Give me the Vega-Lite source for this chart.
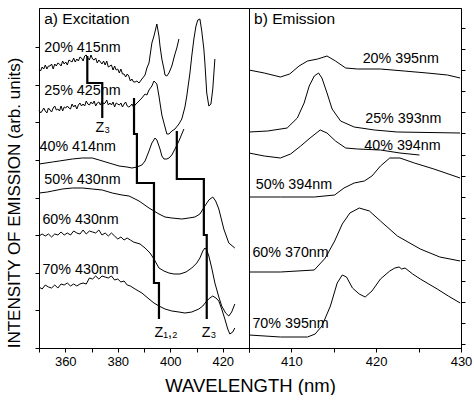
{
  "$schema": "https://vega.github.io/schema/vega-lite/v6.json",
  "padding": {"left": 4, "top": 7, "right": 0, "bottom": 0},
  "bounds": "flush",
  "spacing": 0,
  "config": {
    "view": {"stroke": "black", "strokeWidth": 1},
    "axis": {"grid": false, "domainColor": "black", "tickColor": "black", "labelColor": "black", "titleColor": "black", "labelFont": "Liberation Sans", "titleFont": "Liberation Sans", "labelFontSize": 13, "tickSize": 4, "titleFontWeight": "normal", "labelPadding": 3},
    "text": {"font": "Liberation Sans", "fontSize": 14.3, "color": "black"},
    "line": {"color": "black", "strokeWidth": 1}
  },
  "datasets": {
    "exc": [
      {"s":"20%","x":350.0,"y":279},{"s":"20%","x":350.6,"y":277},{"s":"20%","x":351.2,"y":281},{"s":"20%","x":351.8,"y":279},{"s":"20%","x":352.4,"y":283},{"s":"20%","x":353.0,"y":279},{"s":"20%","x":353.6,"y":282},{"s":"20%","x":354.2,"y":282},{"s":"20%","x":354.8,"y":284},{"s":"20%","x":355.4,"y":279},{"s":"20%","x":356.0,"y":284},{"s":"20%","x":356.6,"y":282},{"s":"20%","x":357.2,"y":285},{"s":"20%","x":357.8,"y":284},{"s":"20%","x":358.4,"y":282},{"s":"20%","x":359.0,"y":287},{"s":"20%","x":359.6,"y":284},{"s":"20%","x":360.2,"y":286},{"s":"20%","x":360.8,"y":283},{"s":"20%","x":361.4,"y":288},{"s":"20%","x":362.0,"y":287},{"s":"20%","x":362.6,"y":286},{"s":"20%","x":363.2,"y":290},{"s":"20%","x":363.8,"y":286},{"s":"20%","x":364.4,"y":289},{"s":"20%","x":365.0,"y":287},{"s":"20%","x":365.6,"y":291},{"s":"20%","x":366.2,"y":290},{"s":"20%","x":366.8,"y":287},{"s":"20%","x":367.4,"y":292},{"s":"20%","x":368.0,"y":293},{"s":"20%","x":368.6,"y":290},{"s":"20%","x":369.2,"y":288},{"s":"20%","x":369.8,"y":293},{"s":"20%","x":370.4,"y":289},{"s":"20%","x":371.0,"y":288},{"s":"20%","x":371.6,"y":290},{"s":"20%","x":372.2,"y":285},{"s":"20%","x":372.8,"y":288},{"s":"20%","x":373.4,"y":286},{"s":"20%","x":374.0,"y":284},{"s":"20%","x":374.6,"y":287},{"s":"20%","x":375.2,"y":283},{"s":"20%","x":375.8,"y":287},{"s":"20%","x":376.4,"y":281},{"s":"20%","x":377.0,"y":282},{"s":"20%","x":377.6,"y":283},{"s":"20%","x":378.2,"y":278},{"s":"20%","x":378.8,"y":282},{"s":"20%","x":379.4,"y":278},{"s":"20%","x":380.0,"y":279},{"s":"20%","x":380.6,"y":275},{"s":"20%","x":381.2,"y":279},{"s":"20%","x":381.8,"y":274},{"s":"20%","x":382.4,"y":274},{"s":"20%","x":383.0,"y":271},{"s":"20%","x":383.6,"y":274},{"s":"20%","x":384.2,"y":272},{"s":"20%","x":384.8,"y":267},{"s":"20%","x":385.4,"y":269},{"s":"20%","x":386.0,"y":266},{"s":"20%","x":386.6,"y":266},{"s":"20%","x":387.3,"y":267},{"s":"20%","x":388.1,"y":265},{"s":"20%","x":389.2,"y":269},{"s":"20%","x":390.4,"y":273},{"s":"20%","x":391.1,"y":280},{"s":"20%","x":391.9,"y":285},{"s":"20%","x":393.0,"y":305},{"s":"20%","x":393.8,"y":312},{"s":"20%","x":394.9,"y":324},{"s":"20%","x":395.7,"y":312},{"s":"20%","x":396.1,"y":302},{"s":"20%","x":396.8,"y":289},{"s":"20%","x":397.6,"y":279},{"s":"20%","x":398.0,"y":273},{"s":"20%","x":398.7,"y":272},{"s":"20%","x":399.5,"y":275},{"s":"20%","x":400.6,"y":282},{"s":"20%","x":401.8,"y":294},{"s":"20%","x":402.5,"y":300},{"s":"20%","x":403.3,"y":309},
      {"s":"25%","x":350.0,"y":238},{"s":"25%","x":350.6,"y":235},{"s":"25%","x":351.2,"y":237},{"s":"25%","x":351.8,"y":240},{"s":"25%","x":352.4,"y":237},{"s":"25%","x":353.0,"y":235},{"s":"25%","x":353.6,"y":240},{"s":"25%","x":354.2,"y":238},{"s":"25%","x":354.8,"y":236},{"s":"25%","x":355.4,"y":240},{"s":"25%","x":356.0,"y":242},{"s":"25%","x":356.6,"y":238},{"s":"25%","x":357.2,"y":239},{"s":"25%","x":357.8,"y":237},{"s":"25%","x":358.4,"y":242},{"s":"25%","x":359.0,"y":237},{"s":"25%","x":359.6,"y":241},{"s":"25%","x":360.2,"y":240},{"s":"25%","x":360.8,"y":242},{"s":"25%","x":361.4,"y":240},{"s":"25%","x":362.0,"y":239},{"s":"25%","x":362.6,"y":244},{"s":"25%","x":363.2,"y":241},{"s":"25%","x":363.8,"y":243},{"s":"25%","x":364.4,"y":239},{"s":"25%","x":365.0,"y":243},{"s":"25%","x":365.6,"y":245},{"s":"25%","x":366.2,"y":242},{"s":"25%","x":366.8,"y":244},{"s":"25%","x":367.4,"y":242},{"s":"25%","x":368.0,"y":247},{"s":"25%","x":368.6,"y":244},{"s":"25%","x":369.2,"y":243},{"s":"25%","x":369.8,"y":246},{"s":"25%","x":370.4,"y":244},{"s":"25%","x":371.0,"y":247},{"s":"25%","x":371.6,"y":242},{"s":"25%","x":372.2,"y":245},{"s":"25%","x":372.8,"y":246},{"s":"25%","x":373.4,"y":243},{"s":"25%","x":374.0,"y":247},{"s":"25%","x":374.6,"y":244},{"s":"25%","x":375.2,"y":245},{"s":"25%","x":375.8,"y":248},{"s":"25%","x":376.4,"y":243},{"s":"25%","x":377.0,"y":245},{"s":"25%","x":377.6,"y":243},{"s":"25%","x":378.2,"y":246},{"s":"25%","x":378.8,"y":241},{"s":"25%","x":379.4,"y":245},{"s":"25%","x":380.0,"y":244},{"s":"25%","x":380.6,"y":243},{"s":"25%","x":381.2,"y":245},{"s":"25%","x":381.8,"y":241},{"s":"25%","x":382.4,"y":244},{"s":"25%","x":383.0,"y":246},{"s":"25%","x":383.6,"y":242},{"s":"25%","x":384.2,"y":241},{"s":"25%","x":384.8,"y":242},{"s":"25%","x":385.4,"y":244},{"s":"25%","x":386.0,"y":241},{"s":"25%","x":386.6,"y":243},{"s":"25%","x":388.1,"y":247},{"s":"25%","x":389.2,"y":250},{"s":"25%","x":390.4,"y":254},{"s":"25%","x":391.1,"y":253},{"s":"25%","x":391.9,"y":258},{"s":"25%","x":393.0,"y":262},{"s":"25%","x":393.8,"y":267},{"s":"25%","x":394.9,"y":264},{"s":"25%","x":395.7,"y":252},{"s":"25%","x":396.1,"y":245},{"s":"25%","x":396.8,"y":233},{"s":"25%","x":397.6,"y":225},{"s":"25%","x":398.7,"y":214},{"s":"25%","x":399.5,"y":214},{"s":"25%","x":400.6,"y":217},{"s":"25%","x":401.8,"y":219},{"s":"25%","x":403.3,"y":224},{"s":"25%","x":404.4,"y":229},{"s":"25%","x":405.6,"y":241},{"s":"25%","x":406.3,"y":252},{"s":"25%","x":407.5,"y":275},{"s":"25%","x":408.2,"y":292},{"s":"25%","x":409.0,"y":309},{"s":"25%","x":409.8,"y":322},{"s":"25%","x":410.5,"y":328},{"s":"25%","x":411.3,"y":329},{"s":"25%","x":412.0,"y":317},{"s":"25%","x":412.8,"y":299},{"s":"25%","x":413.2,"y":285},{"s":"25%","x":413.9,"y":255},{"s":"25%","x":414.7,"y":242},{"s":"25%","x":415.5,"y":244},{"s":"25%","x":416.2,"y":259},{"s":"25%","x":417.0,"y":289},
      {"s":"40%","x":350.1,"y":184},{"s":"40%","x":355.1,"y":186},{"s":"40%","x":357.7,"y":187},{"s":"40%","x":362.7,"y":189},{"s":"40%","x":366.5,"y":190},{"s":"40%","x":370.3,"y":190},{"s":"40%","x":372.9,"y":188},{"s":"40%","x":376.7,"y":185},{"s":"40%","x":380.5,"y":182},{"s":"40%","x":383.5,"y":181},{"s":"40%","x":385.4,"y":180},{"s":"40%","x":387.3,"y":181},{"s":"40%","x":389.2,"y":183},{"s":"40%","x":390.4,"y":187},{"s":"40%","x":391.9,"y":197},{"s":"40%","x":393.0,"y":205},{"s":"40%","x":394.2,"y":210},{"s":"40%","x":394.9,"y":208},{"s":"40%","x":396.1,"y":199},{"s":"40%","x":396.8,"y":192},{"s":"40%","x":397.6,"y":189},{"s":"40%","x":398.7,"y":189},{"s":"40%","x":399.5,"y":190},{"s":"40%","x":400.6,"y":193},{"s":"40%","x":401.8,"y":199},{"s":"40%","x":403.3,"y":207},{"s":"40%","x":404.4,"y":214},{"s":"40%","x":405.2,"y":219},
      {"s":"50%","x":350.1,"y":155},{"s":"50%","x":353.2,"y":156},{"s":"50%","x":355.1,"y":157},{"s":"50%","x":358.9,"y":159},{"s":"50%","x":362.7,"y":160},{"s":"50%","x":366.5,"y":160},{"s":"50%","x":370.3,"y":159},{"s":"50%","x":374.1,"y":158},{"s":"50%","x":377.9,"y":155},{"s":"50%","x":381.6,"y":153},{"s":"50%","x":384.3,"y":152},{"s":"50%","x":386.6,"y":149},{"s":"50%","x":388.1,"y":147},{"s":"50%","x":389.2,"y":145},{"s":"50%","x":391.9,"y":140},{"s":"50%","x":393.8,"y":137},{"s":"50%","x":395.7,"y":134},{"s":"50%","x":398.0,"y":131},{"s":"50%","x":400.6,"y":130},{"s":"50%","x":404.4,"y":129},{"s":"50%","x":407.1,"y":130},{"s":"50%","x":409.4,"y":131},{"s":"50%","x":411.3,"y":134},{"s":"50%","x":413.2,"y":142},{"s":"50%","x":414.7,"y":148},{"s":"50%","x":416.2,"y":151},{"s":"50%","x":417.3,"y":147},{"s":"50%","x":418.5,"y":139},{"s":"50%","x":420.4,"y":119},{"s":"50%","x":422.3,"y":105},{"s":"50%","x":424.6,"y":100},
      {"s":"60%","x":350.0,"y":112},{"s":"60%","x":351.2,"y":114},{"s":"60%","x":352.4,"y":112},{"s":"60%","x":353.6,"y":114},{"s":"60%","x":354.8,"y":111},{"s":"60%","x":356.0,"y":114},{"s":"60%","x":357.2,"y":113},{"s":"60%","x":358.4,"y":116},{"s":"60%","x":359.6,"y":113},{"s":"60%","x":360.8,"y":115},{"s":"60%","x":362.0,"y":113},{"s":"60%","x":363.2,"y":117},{"s":"60%","x":364.4,"y":115},{"s":"60%","x":365.6,"y":114},{"s":"60%","x":366.8,"y":118},{"s":"60%","x":368.0,"y":114},{"s":"60%","x":369.2,"y":117},{"s":"60%","x":370.4,"y":116},{"s":"60%","x":371.6,"y":115},{"s":"60%","x":372.8,"y":118},{"s":"60%","x":374.0,"y":113},{"s":"60%","x":375.2,"y":115},{"s":"60%","x":376.4,"y":112},{"s":"60%","x":377.6,"y":115},{"s":"60%","x":378.8,"y":112},{"s":"60%","x":380.0,"y":109},{"s":"60%","x":381.2,"y":111},{"s":"60%","x":382.4,"y":108},{"s":"60%","x":383.6,"y":110},{"s":"60%","x":384.8,"y":108},{"s":"60%","x":386.0,"y":106},{"s":"60%","x":388.5,"y":104},{"s":"60%","x":390.4,"y":100},{"s":"60%","x":392.3,"y":95},{"s":"60%","x":393.8,"y":89},{"s":"60%","x":395.7,"y":80},{"s":"60%","x":397.6,"y":77},{"s":"60%","x":399.5,"y":75},{"s":"60%","x":401.4,"y":74},{"s":"60%","x":403.7,"y":74},{"s":"60%","x":406.0,"y":76},{"s":"60%","x":408.2,"y":80},{"s":"60%","x":410.1,"y":85},{"s":"60%","x":411.3,"y":90},{"s":"60%","x":412.4,"y":97},{"s":"60%","x":413.2,"y":100},{"s":"60%","x":413.9,"y":98},{"s":"60%","x":414.7,"y":92},{"s":"60%","x":415.8,"y":80},{"s":"60%","x":417.0,"y":65},{"s":"60%","x":418.5,"y":51},{"s":"60%","x":419.6,"y":42},{"s":"60%","x":421.1,"y":35},{"s":"60%","x":422.3,"y":32},{"s":"60%","x":423.4,"y":36},{"s":"60%","x":424.6,"y":44},
      {"s":"70%","x":350.0,"y":61},{"s":"70%","x":351.2,"y":59},{"s":"70%","x":352.4,"y":63},{"s":"70%","x":353.6,"y":61},{"s":"70%","x":354.8,"y":60},{"s":"70%","x":356.0,"y":63},{"s":"70%","x":357.2,"y":60},{"s":"70%","x":358.4,"y":64},{"s":"70%","x":359.6,"y":63},{"s":"70%","x":360.8,"y":65},{"s":"70%","x":362.0,"y":62},{"s":"70%","x":363.2,"y":64},{"s":"70%","x":364.4,"y":62},{"s":"70%","x":365.6,"y":64},{"s":"70%","x":366.8,"y":65},{"s":"70%","x":368.0,"y":64},{"s":"70%","x":369.2,"y":70},{"s":"70%","x":370.4,"y":69},{"s":"70%","x":371.6,"y":72},{"s":"70%","x":372.8,"y":69},{"s":"70%","x":374.0,"y":72},{"s":"70%","x":375.2,"y":71},{"s":"70%","x":376.4,"y":70},{"s":"70%","x":377.6,"y":72},{"s":"70%","x":378.8,"y":68},{"s":"70%","x":380.0,"y":69},{"s":"70%","x":381.2,"y":66},{"s":"70%","x":382.4,"y":67},{"s":"70%","x":383.6,"y":63},{"s":"70%","x":384.8,"y":62},{"s":"70%","x":386.6,"y":59},{"s":"70%","x":389.2,"y":55},{"s":"70%","x":391.9,"y":49},{"s":"70%","x":393.8,"y":45},{"s":"70%","x":395.7,"y":42},{"s":"70%","x":398.0,"y":39},{"s":"70%","x":400.6,"y":37},{"s":"70%","x":403.3,"y":36},{"s":"70%","x":405.6,"y":35},{"s":"70%","x":408.2,"y":36},{"s":"70%","x":410.9,"y":39},{"s":"70%","x":412.4,"y":42},{"s":"70%","x":413.9,"y":47},{"s":"70%","x":415.1,"y":50},{"s":"70%","x":416.2,"y":52},{"s":"70%","x":417.4,"y":50},{"s":"70%","x":418.5,"y":47},{"s":"70%","x":419.6,"y":39},{"s":"70%","x":420.8,"y":29},{"s":"70%","x":421.9,"y":19},{"s":"70%","x":422.7,"y":14},{"s":"70%","x":423.8,"y":16},{"s":"70%","x":424.6,"y":20}
    ],
    "excSteps": [
      {"s":"Z3a","o":1,"x":368.4,"y":292},{"s":"Z3a","o":2,"x":368.4,"y":265},{"s":"Z3a","o":3,"x":374.1,"y":265},{"s":"Z3a","o":4,"x":374.1,"y":230},
      {"s":"Z12","o":1,"x":386.2,"y":250},{"s":"Z12","o":2,"x":386.2,"y":214},{"s":"Z12","o":3,"x":387.3,"y":214},{"s":"Z12","o":4,"x":387.3,"y":165},{"s":"Z12","o":5,"x":393.8,"y":165},{"s":"Z12","o":6,"x":393.8,"y":65},{"s":"Z12","o":7,"x":395.7,"y":65},{"s":"Z12","o":8,"x":395.7,"y":29},
      {"s":"Z3b","o":1,"x":402.5,"y":217},{"s":"Z3b","o":2,"x":402.5,"y":169},{"s":"Z3b","o":3,"x":412.8,"y":169},{"s":"Z3b","o":4,"x":412.8,"y":113},{"s":"Z3b","o":5,"x":413.9,"y":113},{"s":"Z3b","o":6,"x":413.9,"y":29}
    ],
    "excLabels": [
      {"t":"20% 415nm","x":352.0,"y":300},
      {"t":"25% 425nm","x":352.0,"y":257},
      {"t":"40% 414nm","x":350.2,"y":201},
      {"t":"50% 430nm","x":352.0,"y":168},
      {"t":"60% 430nm","x":351.3,"y":128},
      {"t":"70% 430nm","x":351.3,"y":78},
      {"t":"Z₃","x":371.5,"y":220},
      {"t":"Z₁,₂","x":394.0,"y":15},
      {"t":"Z₃","x":412.0,"y":15}
    ],
    "excTitle": [{"t":"a) Excitation","x":352.0,"y":329}],
    "emi": [
      {"s":"20%","x":405.0,"y":278},{"s":"20%","x":406.8,"y":275},{"s":"20%","x":408.7,"y":271},{"s":"20%","x":409.8,"y":274},{"s":"20%","x":410.9,"y":282},{"s":"20%","x":411.9,"y":287},{"s":"20%","x":413.1,"y":289},{"s":"20%","x":414.2,"y":292},{"s":"20%","x":415.2,"y":287},{"s":"20%","x":416.4,"y":280},{"s":"20%","x":417.8,"y":279},{"s":"20%","x":420.5,"y":279},{"s":"20%","x":423.3,"y":277},{"s":"20%","x":426.0,"y":275},{"s":"20%","x":428.4,"y":273},{"s":"20%","x":429.9,"y":270},
      {"s":"25%","x":405.0,"y":216},{"s":"25%","x":407.2,"y":217},{"s":"25%","x":409.5,"y":220},{"s":"25%","x":410.7,"y":230},{"s":"25%","x":411.5,"y":245},{"s":"25%","x":412.1,"y":262},{"s":"25%","x":412.7,"y":272},{"s":"25%","x":413.2,"y":275},{"s":"25%","x":413.6,"y":270},{"s":"25%","x":414.2,"y":255},{"s":"25%","x":414.8,"y":239},{"s":"25%","x":415.8,"y":227},{"s":"25%","x":417.4,"y":221},{"s":"25%","x":419.8,"y":218},{"s":"25%","x":422.5,"y":216},{"s":"25%","x":429.9,"y":215},
      {"s":"40%","x":405.0,"y":195},{"s":"40%","x":406.8,"y":192},{"s":"40%","x":408.7,"y":190},{"s":"40%","x":409.9,"y":194},{"s":"40%","x":411.1,"y":202},{"s":"40%","x":412.2,"y":210},{"s":"40%","x":413.4,"y":218},{"s":"40%","x":414.2,"y":215},{"s":"40%","x":415.2,"y":207},{"s":"40%","x":416.4,"y":200},{"s":"40%","x":417.8,"y":199},{"s":"40%","x":420.5,"y":198},{"s":"40%","x":422.8,"y":195},{"s":"40%","x":425.1,"y":193},
      {"s":"50%","x":405.0,"y":151},{"s":"50%","x":408.7,"y":151},{"s":"50%","x":412.7,"y":151},{"s":"50%","x":415.1,"y":153},{"s":"50%","x":416.2,"y":160},{"s":"50%","x":417.4,"y":165},{"s":"50%","x":418.6,"y":167},{"s":"50%","x":419.5,"y":172},{"s":"50%","x":420.5,"y":182},{"s":"50%","x":421.6,"y":190},{"s":"50%","x":422.8,"y":190},{"s":"50%","x":424.5,"y":185},{"s":"50%","x":426.8,"y":179},{"s":"50%","x":429.9,"y":170},
      {"s":"60%","x":405.0,"y":76},{"s":"60%","x":408.7,"y":76},{"s":"60%","x":412.7,"y":78},{"s":"60%","x":414.0,"y":90},{"s":"60%","x":415.1,"y":107},{"s":"60%","x":416.0,"y":124},{"s":"60%","x":416.9,"y":135},{"s":"60%","x":418.0,"y":140},{"s":"60%","x":419.2,"y":137},{"s":"60%","x":420.5,"y":127},{"s":"60%","x":422.5,"y":112},{"s":"60%","x":425.2,"y":99},{"s":"60%","x":427.5,"y":91},{"s":"60%","x":429.9,"y":87},
      {"s":"70%","x":405.0,"y":13},{"s":"70%","x":408.7,"y":11},{"s":"70%","x":411.9,"y":11},{"s":"70%","x":412.8,"y":14},{"s":"70%","x":413.6,"y":22},{"s":"70%","x":414.6,"y":42},{"s":"70%","x":415.4,"y":65},{"s":"70%","x":416.0,"y":73},{"s":"70%","x":416.5,"y":71},{"s":"70%","x":417.2,"y":60},{"s":"70%","x":418.0,"y":54},{"s":"70%","x":418.7,"y":51},{"s":"70%","x":419.5,"y":57},{"s":"70%","x":420.5,"y":69},{"s":"70%","x":421.6,"y":77},{"s":"70%","x":422.2,"y":80},{"s":"70%","x":422.7,"y":81},{"s":"70%","x":423.0,"y":79},{"s":"70%","x":423.4,"y":80},{"s":"70%","x":424.3,"y":74},{"s":"70%","x":425.2,"y":69},{"s":"70%","x":426.2,"y":64},{"s":"70%","x":427.2,"y":59},{"s":"70%","x":428.5,"y":52},{"s":"70%","x":429.9,"y":45}
    ],
    "emiLabels": [
      {"t":"20% 395nm","x":418.4,"y":289},
      {"t":"25% 393nm","x":418.7,"y":229},
      {"t":"40% 394nm","x":418.6,"y":202},
      {"t":"50% 394nm","x":405.8,"y":163},
      {"t":"60% 370nm","x":405.4,"y":95},
      {"t":"70% 395nm","x":405.4,"y":24}
    ],
    "emiTitle": [{"t":"b) Emission","x":405.6,"y":329}]
  },
  "hconcat": [
    {
      "width": 210,
      "height": 340,
      "encoding": {
        "x": {"field": "x", "type": "quantitative", "scale": {"domain": [350, 430], "nice": false, "zero": false},
          "axis": {"values": [350, 360, 370, 380, 390, 400, 410, 420, 430], "labelExpr": "(datum.value == 360 || datum.value == 380 || datum.value == 400 || datum.value == 420) ? datum.label : ''", "labelFlush": false, "labelOverlap": false,
            "title": "WAVELENGTH (nm)", "titleFontSize": 18.5, "titleX": 211, "titleY": 43, "titleAlign": "center", "titleBaseline": "alphabetic"}},
        "y": {"field": "y", "type": "quantitative", "scale": {"domain": [0, 340], "nice": false, "zero": false},
          "axis": {"values": [0, 37.6, 75.2, 112.8, 150.4, 188, 225.6, 263.2, 300.8], "labels": false,
            "title": "INTENSITY OF EMISSION (arb. units)", "titleFontSize": 17, "titleX": -25, "titleY": 194.5, "titleAngle": 270, "titleAlign": "center", "titleBaseline": "middle"}}
      },
      "layer": [
        {
          "data": {"name": "exc"},
          "mark": {"type": "line", "strokeWidth": 1, "color": "black"},
          "encoding": {"detail": {"field": "s"}}
        },
        {
          "data": {"name": "excSteps"},
          "mark": {"type": "line", "strokeWidth": 2.2, "color": "black"},
          "encoding": {"detail": {"field": "s"}, "order": {"field": "o", "type": "quantitative"}}
        },
        {
          "data": {"name": "excLabels"},
          "mark": {"type": "text", "align": "left", "baseline": "middle"},
          "encoding": {"text": {"field": "t"}}
        },
        {
          "data": {"name": "excTitle"},
          "mark": {"type": "text", "align": "left", "baseline": "middle", "fontSize": 15.5},
          "encoding": {"text": {"field": "t"}}
        }
      ]
    },
    {
      "width": 212,
      "height": 340,
      "encoding": {
        "x": {"field": "x", "type": "quantitative", "scale": {"domain": [405, 430], "nice": false, "zero": false},
          "axis": {"values": [405, 410, 415, 420, 425, 430], "labelExpr": "(datum.value == 410 || datum.value == 420 || datum.value == 430) ? datum.label : ''", "labelFlush": false, "labelOverlap": false, "title": null}},
        "y": {"field": "y", "type": "quantitative", "scale": {"domain": [0, 340], "nice": false, "zero": false},
          "axis": {"orient": "right", "values": [4, 25, 46, 67, 88, 109, 130, 151, 172, 193, 215, 236, 257, 278, 299, 320], "labels": false, "title": null}}
      },
      "layer": [
        {
          "data": {"name": "emi"},
          "mark": {"type": "line", "strokeWidth": 1, "color": "black"},
          "encoding": {"detail": {"field": "s"}}
        },
        {
          "data": {"name": "emiLabels"},
          "mark": {"type": "text", "align": "left", "baseline": "middle"},
          "encoding": {"text": {"field": "t"}}
        },
        {
          "data": {"name": "emiTitle"},
          "mark": {"type": "text", "align": "left", "baseline": "middle", "fontSize": 15.5},
          "encoding": {"text": {"field": "t"}}
        }
      ]
    }
  ]
}
